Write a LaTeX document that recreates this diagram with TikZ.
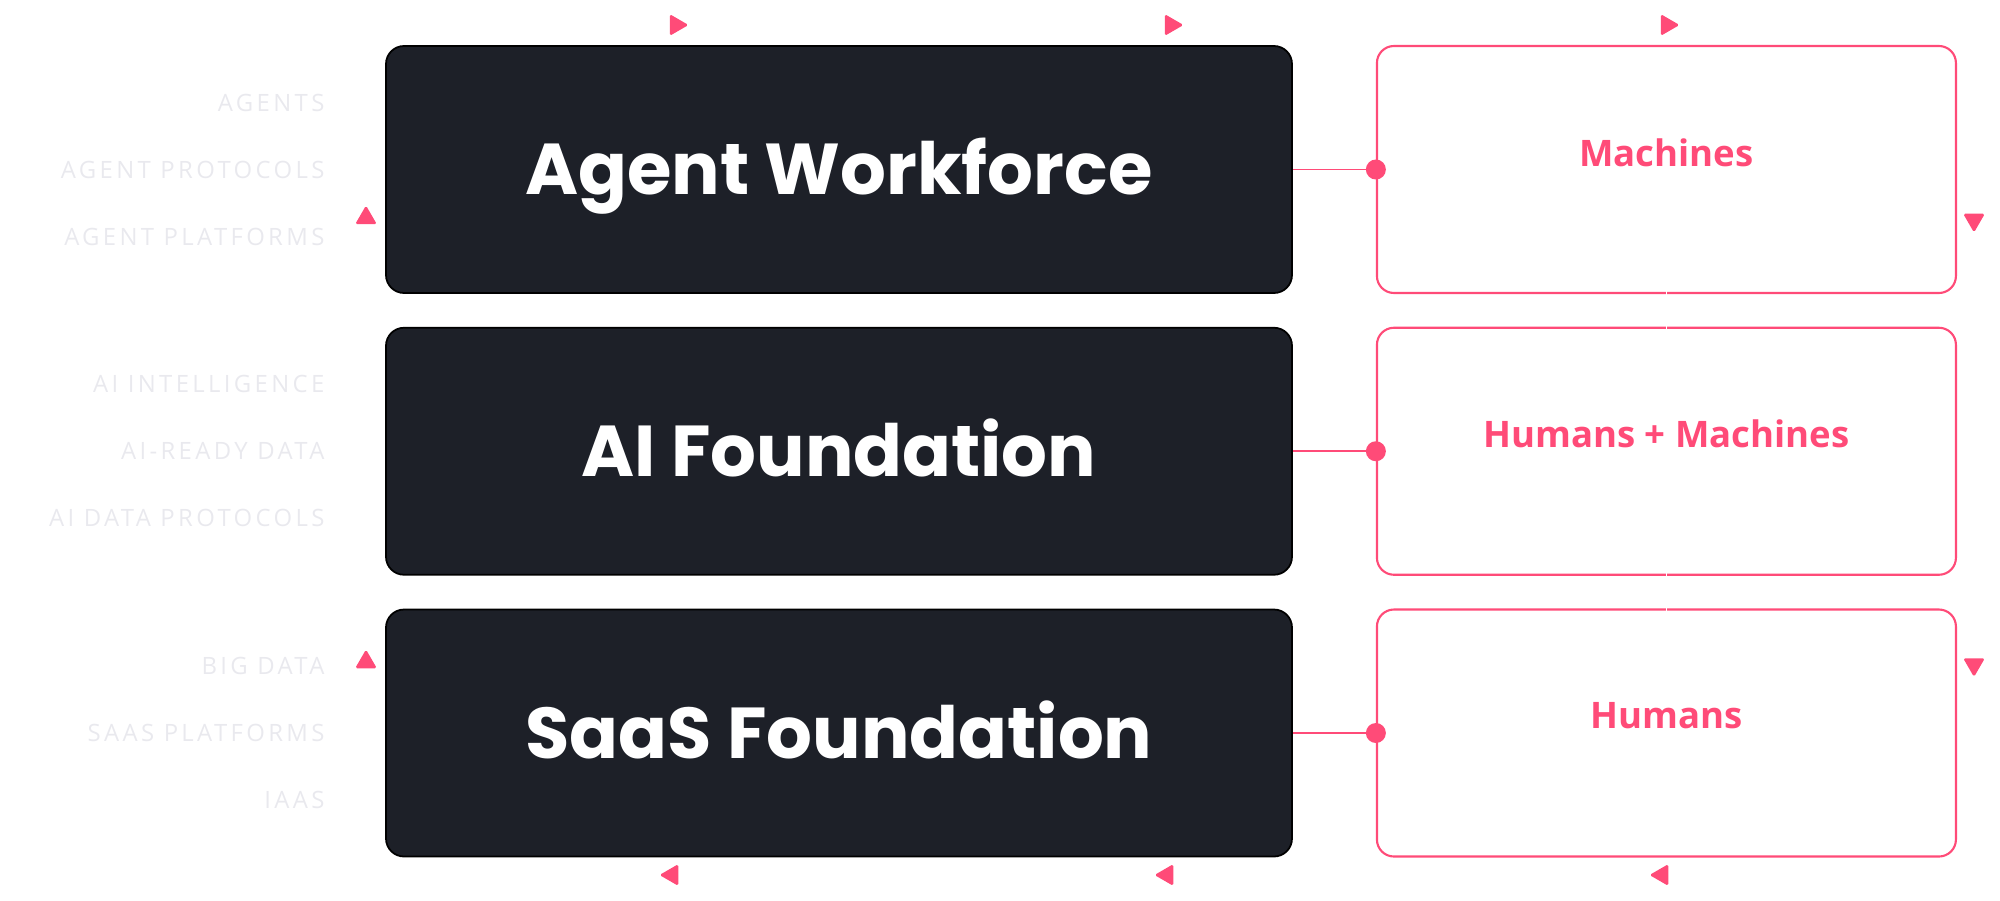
\documentclass[tikz,border=0pt]{standalone}
\usepackage{fontspec}
\setmainfont{Open Sans}
\newfontfamily\titlefont{Poppins}
\newfontfamily\trackfont[LetterSpace=14]{Open Sans}
\usepackage{tikz}
\usetikzlibrary{positioning, shapes.geometric}
\definecolor{slab}{HTML}{1D2028}
\definecolor{rose}{HTML}{FF4B78}
\definecolor{faint}{HTML}{E9E9EE}

\begin{document}
\begin{tikzpicture}
	\tikzset{layer/.style={draw=black, line width=0.5pt, fill=slab, rounded corners=0.18cm, minimum width=9.06cm, minimum height=2.47cm, text=white, text height=14.3pt, text depth=0pt, font=\titlefont\bfseries\fontsize{20.5}{24}\selectfont},
		actor/.style={draw=rose, line width=0.6pt, rounded corners=0.17cm, minimum width=5.79cm, minimum height=2.47cm},
		actortext/.style={text=rose, font=\bfseries\fontsize{10.4}{12}\selectfont},
		side/.style={text=faint, anchor=east, inner sep=0pt, font=\trackfont\fontsize{6.8}{8}\selectfont},
		link/.style={draw=rose, line width=0.5pt},
		cut/.style={draw=white, line width=0.5pt, shorten <=-1pt, shorten >=-1pt},
		dot/.style={circle, fill=rose, inner sep=0pt, minimum size=0.2cm},
		tip/.style={regular polygon, regular polygon sides=3, fill=rose, inner sep=0pt, minimum size=0.25cm, rounded corners=0.5pt},
		node distance=0.33cm and 0.83cm}

	\useasboundingbox (0,0) rectangle (20,-9.01);

	% stack
	\node[layer] (work) at (8.39,-1.695) {Agent Workforce};
	\node[layer, below=of work] (ai) {AI Foundation};
	\node[layer, below=of ai] (saas) {SaaS Foundation};

	% who does the work
	\node[actor, right=of work] (mach) {};
	\node[actor, right=of ai] (both) {};
	\node[actor, right=of saas] (hum) {};
	\node[actortext] (mach-t) at ([yshift=0.17cm]mach.center) {Machines};
	\node[actortext] (both-t) at ([yshift=0.17cm]both.center) {Humans + Machines};
	\node[actortext] (hum-t) at ([yshift=0.17cm]hum.center) {Humans};

	\draw[link] (work) -- (mach.west) node[dot] (d1) {};
	\draw[link] (ai) -- (both.west) node[dot] (d2) {};
	\draw[link] (saas) -- (hum.west) node[dot] (d3) {};
	\draw[cut] (mach.south) -- (both.north);
	\draw[cut] (both.south) -- (hum.north);

	% side labels
	\foreach \row/\a/\b/\c in {work/AGENTS/AGENT PROTOCOLS/AGENT PLATFORMS, ai/AI INTELLIGENCE/AI-READY DATA/AI DATA PROTOCOLS, saas/BIG DATA/SAAS PLATFORMS/IAAS} {
		\node[side] (\row-a) at ([xshift=-0.6cm, yshift=0.67cm]\row.west) {\a};
		\node[side] (\row-b) at ([xshift=-0.6cm]\row.west) {\b};
		\node[side] (\row-c) at ([xshift=-0.6cm, yshift=-0.67cm]\row.west) {\c};
	}

	% little arrows round the frame
	\foreach \x [count=\i] in {6.76, 11.71, 16.67}
		\node[tip, rotate=-90] (top\i) at (\x,-0.25) {};
	\foreach \x [count=\i] in {6.72, 11.67, 16.62}
		\node[tip, rotate=90] (bot\i) at (\x,-8.75) {};
	\node[tip] (up1) at (3.66,-2.18) {};
	\node[tip] (up2) at (3.66,-6.62) {};
	\node[tip, rotate=180] (down1) at (19.74,-2.20) {};
	\node[tip, rotate=180] (down2) at (19.74,-6.645) {};
\end{tikzpicture}
\end{document}
